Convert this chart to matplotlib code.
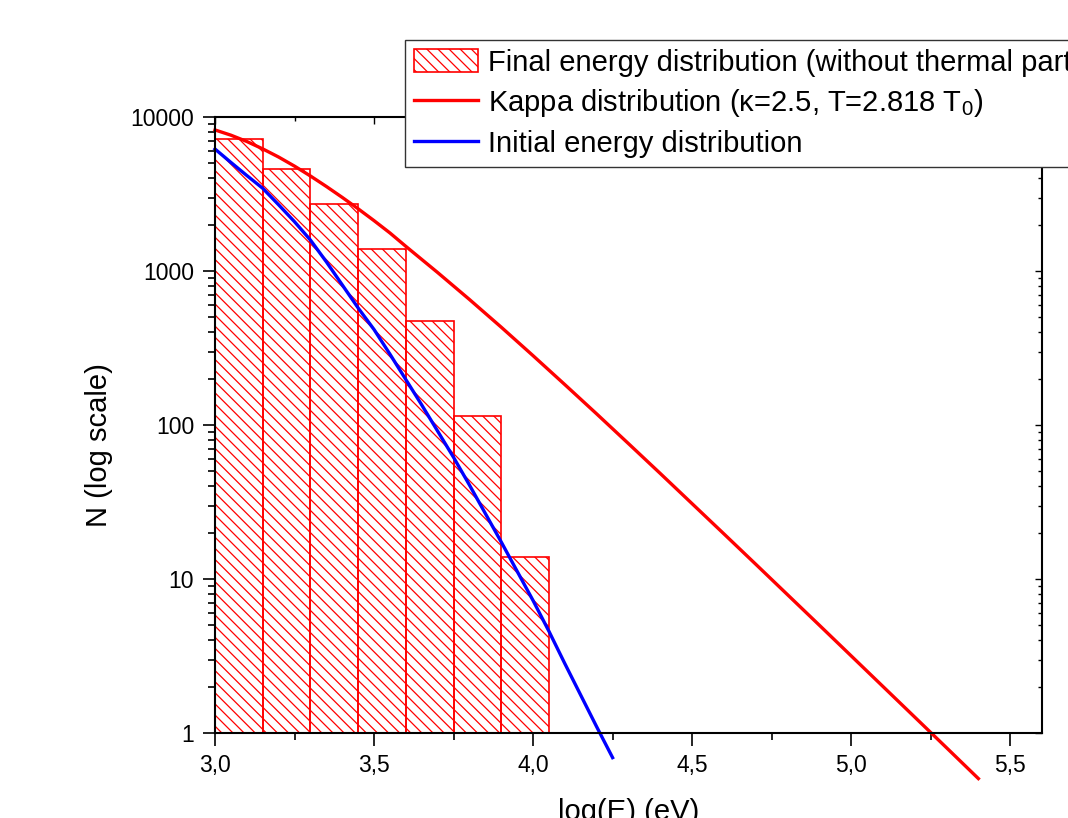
import matplotlib
matplotlib.use('Agg')
import matplotlib.pyplot as plt
import numpy as np
from matplotlib.ticker import FixedLocator, LogLocator, NullFormatter, FuncFormatter

plt.rcParams['font.family'] = ['Liberation Sans', 'DejaVu Sans']
plt.rcParams['mathtext.fontset'] = 'custom'
plt.rcParams['mathtext.rm'] = 'Liberation Sans'
plt.rcParams['mathtext.it'] = 'Liberation Sans:italic'
plt.rcParams['hatch.linewidth'] = 0.9

# histogram of final energies (log10 E bins)
bin_edges = [3.0, 3.15, 3.30, 3.45, 3.60, 3.75, 3.90, 4.05]
bin_counts = [7150, 4570, 2710, 1384, 476, 115, 13.9]

# kappa fit (log10 N)
kappa_x = [3.0, 3.05, 3.1, 3.15, 3.2, 3.25, 3.3, 3.35, 3.4, 3.45, 3.5, 3.55,
           3.6, 3.7, 3.8, 3.9, 4.0, 4.1, 4.2, 4.3, 4.4, 4.5, 4.6, 4.7, 4.8,
           4.9, 5.0, 5.1, 5.2, 5.3, 5.4]
kappa_logn = [3.916, 3.882, 3.841, 3.793, 3.740, 3.681, 3.617, 3.549, 3.478,
              3.404, 3.327, 3.247, 3.160, 2.990, 2.815, 2.635, 2.450, 2.262,
              2.072, 1.879, 1.685, 1.489, 1.293, 1.096, 0.898, 0.700, 0.501,
              0.302, 0.103, -0.096, -0.296]

# initial distribution (log10 N)
init_x = [3.00, 3.05, 3.10, 3.15, 3.20, 3.25, 3.30, 3.35, 3.40, 3.45, 3.50,
          3.55, 3.60, 3.65, 3.70, 3.75, 3.80, 3.85, 3.90, 3.95, 4.00, 4.05,
          4.10, 4.15, 4.20, 4.25]
init_logn = [3.792, 3.705, 3.62, 3.537, 3.43, 3.32, 3.201, 3.06, 2.91, 2.76,
             2.62, 2.46, 2.295, 2.13, 1.96, 1.79, 1.61, 1.425, 1.24, 1.05,
             0.86, 0.66, 0.45, 0.245, 0.04, -0.16]

x_major = [3.0, 3.5, 4.0, 4.5, 5.0, 5.5]
x_minor = [3.25, 3.75, 4.25, 4.75, 5.25]

fig = plt.figure(figsize=(10.68, 8.18), dpi=100)
ax = fig.add_axes([215 / 1068, 1 - 733 / 818, 827 / 1068, 616 / 818])

widths = np.diff(bin_edges)
counts = np.array(bin_counts)
bars = ax.bar(bin_edges[:-1], counts - 1, width=widths, bottom=1, align='edge',
              facecolor='none', edgecolor='#ff0000', hatch='\\\\\\', linewidth=1.2,
              label='Final energy distribution (without thermal particles)')
kline, = ax.plot(kappa_x, 10 ** np.array(kappa_logn), color='#ff0000', lw=2.4,
                 clip_on=False, label='Kappa distribution (κ=2.5, T=2.818 T$_0$)')
iline, = ax.plot(init_x, 10 ** np.array(init_logn), color='#0000ff', lw=2.4,
                 clip_on=False, label='Initial energy distribution')

ax.set_yscale('log')
ax.set_xlim(3.0, 5.6)
ax.set_ylim(1, 10000)

ax.xaxis.set_major_locator(FixedLocator(x_major))
ax.xaxis.set_minor_locator(FixedLocator(x_minor))
ax.xaxis.set_major_formatter(FuncFormatter(lambda v, p: f'{v:.1f}'.replace('.', ',')))
ax.yaxis.set_major_locator(LogLocator(base=10, numticks=10))
ax.yaxis.set_minor_locator(LogLocator(base=10, subs=np.arange(2, 10), numticks=20))
ax.yaxis.set_minor_formatter(NullFormatter())
ax.yaxis.set_major_formatter(FuncFormatter(lambda v, p: f'{int(round(v))}'))

for s in ax.spines.values():
    s.set_linewidth(1.5)
ax.tick_params(which='major', direction='out', length=9, width=1.2,
               labelsize=16.5, pad=6)
ax.tick_params(which='minor', direction='out', length=5, width=1.2)
# mirrored ticks on top/right, pointing in
ax2 = ax.twinx()
ax2.set_yscale('log')
ax2.set_ylim(ax.get_ylim())
ax2.yaxis.set_major_locator(LogLocator(base=10, numticks=10))
ax2.yaxis.set_minor_locator(LogLocator(base=10, subs=np.arange(2, 10), numticks=20))
ax2.tick_params(which='both', direction='in', labelright=False, width=1.0)
ax2.tick_params(which='major', length=5)
ax2.tick_params(which='minor', length=3)
ax3 = ax.twiny()
ax3.set_xlim(ax.get_xlim())
ax3.xaxis.set_major_locator(FixedLocator(x_major))
ax3.xaxis.set_minor_locator(FixedLocator(x_minor))
ax3.tick_params(which='both', direction='in', labeltop=False, width=1.0)
ax3.tick_params(which='major', length=5)
ax3.tick_params(which='minor', length=3)
for a in (ax2, ax3):
    for s in a.spines.values():
        s.set_visible(False)

ax.set_xlabel('log(E) (eV)', fontsize=21, labelpad=15)
ax.set_ylabel('N (log scale)', fontsize=21)
ax.yaxis.set_label_coords(-0.123, 0.4675)

leg = fig.legend([bars, kline, iline],
                 [bars.get_label(), kline.get_label(), iline.get_label()],
                 loc='upper left', bbox_to_anchor=(405 / 1068, 1 - 40 / 818),
                 fontsize=21, frameon=True, fancybox=False, framealpha=1,
                 edgecolor='#333333', borderpad=0.3, labelspacing=0.36,
                 handlelength=2.2, handleheight=0.85, handletextpad=0.35,
                 borderaxespad=0)
leg.get_frame().set_linewidth(1.0)

fig.savefig('out.png', dpi=100)
